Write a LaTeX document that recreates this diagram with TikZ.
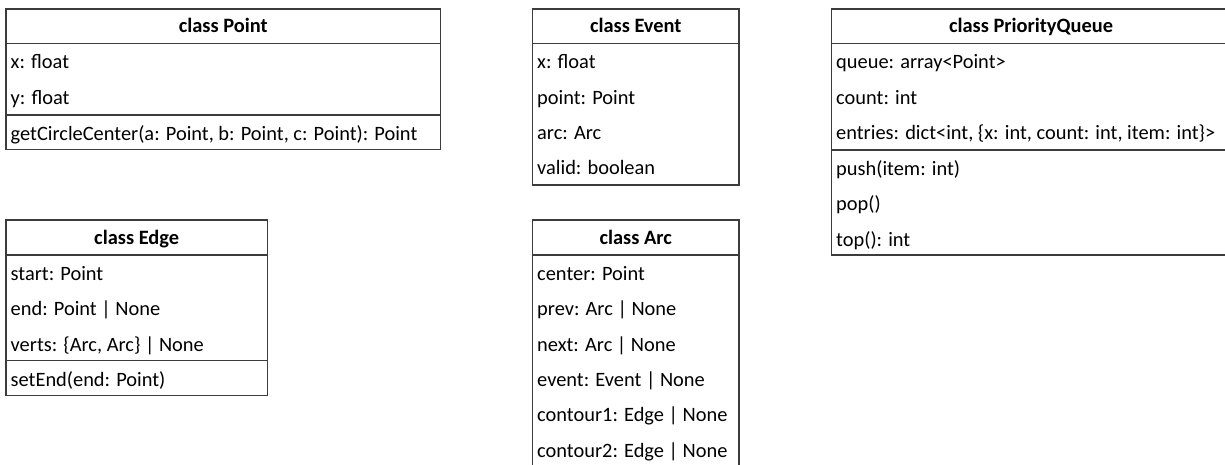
\documentclass[tikz,border=0pt]{standalone}
\usepackage{fontspec}
\setmainfont{Carlito}
\definecolor{linecol}{HTML}{3C3C3C}
\tikzset{
  box/.style={draw=linecol, line width=1.2pt, anchor=north west, inner sep=0pt, outer sep=0pt},
  sep/.style={draw=linecol, line width=1.2pt},
  hdr/.style={anchor=base, inner sep=0pt, font=\fontsize{20.4}{24}\selectfont\bfseries},
  row/.style={anchor=base west, inner sep=0pt, font=\fontsize{20.4}{24}\selectfont},
}
\begin{document}
\begin{tikzpicture}[x=1pt,y=-1pt]
\path[use as bounding box, fill=white] (0,0) rectangle (1225,464);
\begin{scope}
\clip (0,0) rectangle (1225,464);
% class Point
\node[box, minimum width=434.5pt, minimum height=140.3pt] (pt) at (6,9) {};
\draw[sep] (6,43.3) coordinate (pth1) -- (440.5,43.3) coordinate (pth2);
\draw[sep] (6,115) coordinate (pts1) -- (440.5,115) coordinate (pts2);
\node[hdr] (ptt) at (223.25,32.8) {class Point};
\node[row] (pta) at (10.5,68.8) {x: float};
\node[row] (ptb) at (10.5,104.1) {y: float};
\node[row] (ptc) at (10.5,140.2) {getCircleCenter(a: Point, b: Point, c: Point): Point};
% class Event
\node[box, minimum width=206.5pt, minimum height=176pt] (ev) at (532.5,9) {};
\draw[sep] (532.5,43.3) coordinate (evh1) -- (739,43.3) coordinate (evh2);
\node[hdr] (evt) at (635.75,32.8) {class Event};
\node[row] (eva) at (537,68.8) {x: float};
\node[row] (evb) at (537,104.1) {point: Point};
\node[row] (evc) at (537,139.4) {arc: Arc};
\node[row] (evd) at (537,174.7) {valid: boolean};
% class PriorityQueue
\node[box, minimum width=400pt, minimum height=246pt] (pq) at (831.5,9) {};
\draw[sep] (831.5,43.3) coordinate (pqh1) -- (1231.5,43.3) coordinate (pqh2);
\draw[sep] (831.5,150) coordinate (pqs1) -- (1231.5,150) coordinate (pqs2);
\node[hdr] (pqt) at (1031,32.8) {class PriorityQueue};
\node[row] (pqa) at (836,68.8) {queue: array<Point>};
\node[row] (pqb) at (836,104.1) {count: int};
\node[row] (pqc) at (836,139.4) {entries: dict<int, \{x: int, count: int, item: int\}>};
\node[row] (pqd) at (836,175.5) {push(item: int)};
\node[row] (pqe) at (836,210.8) {pop()};
\node[row] (pqf) at (836,246.1) {top(): int};
% class Edge
\node[box, minimum width=261.3pt, minimum height=175.7pt] (ed) at (6,220) {};
\draw[sep] (6,255) coordinate (edh1) -- (267.3,255) coordinate (edh2);
\draw[sep] (6,360.7) coordinate (eds1) -- (267.3,360.7) coordinate (eds2);
\node[hdr] (edt) at (136.65,244.8) {class Edge};
\node[row] (eda) at (10.5,280.5) {start: Point};
\node[row] (edb) at (10.5,315.8) {end: Point | None};
\node[row] (edc) at (10.5,351.1) {verts: \{Arc, Arc\} | None};
\node[row] (edd) at (10.5,386.4) {setEnd(end: Point)};
% class Arc
\node[box, minimum width=206.5pt, minimum height=247pt] (ar) at (532.5,220) {};
\draw[sep] (532.5,255) coordinate (arh1) -- (739,255) coordinate (arh2);
\node[hdr] (art) at (635.75,244.8) {class Arc};
\node[row] (ara) at (537,280.5) {center: Point};
\node[row] (arb) at (537,315.8) {prev: Arc | None};
\node[row] (arc) at (537,351.1) {next: Arc | None};
\node[row] (ard) at (537,386.4) {event: Event | None};
\node[row] (are) at (537,421.7) {contour1: Edge | None};
\node[row] (arf) at (537,457) {contour2: Edge | None};
\end{scope}
\end{tikzpicture}
\end{document}
